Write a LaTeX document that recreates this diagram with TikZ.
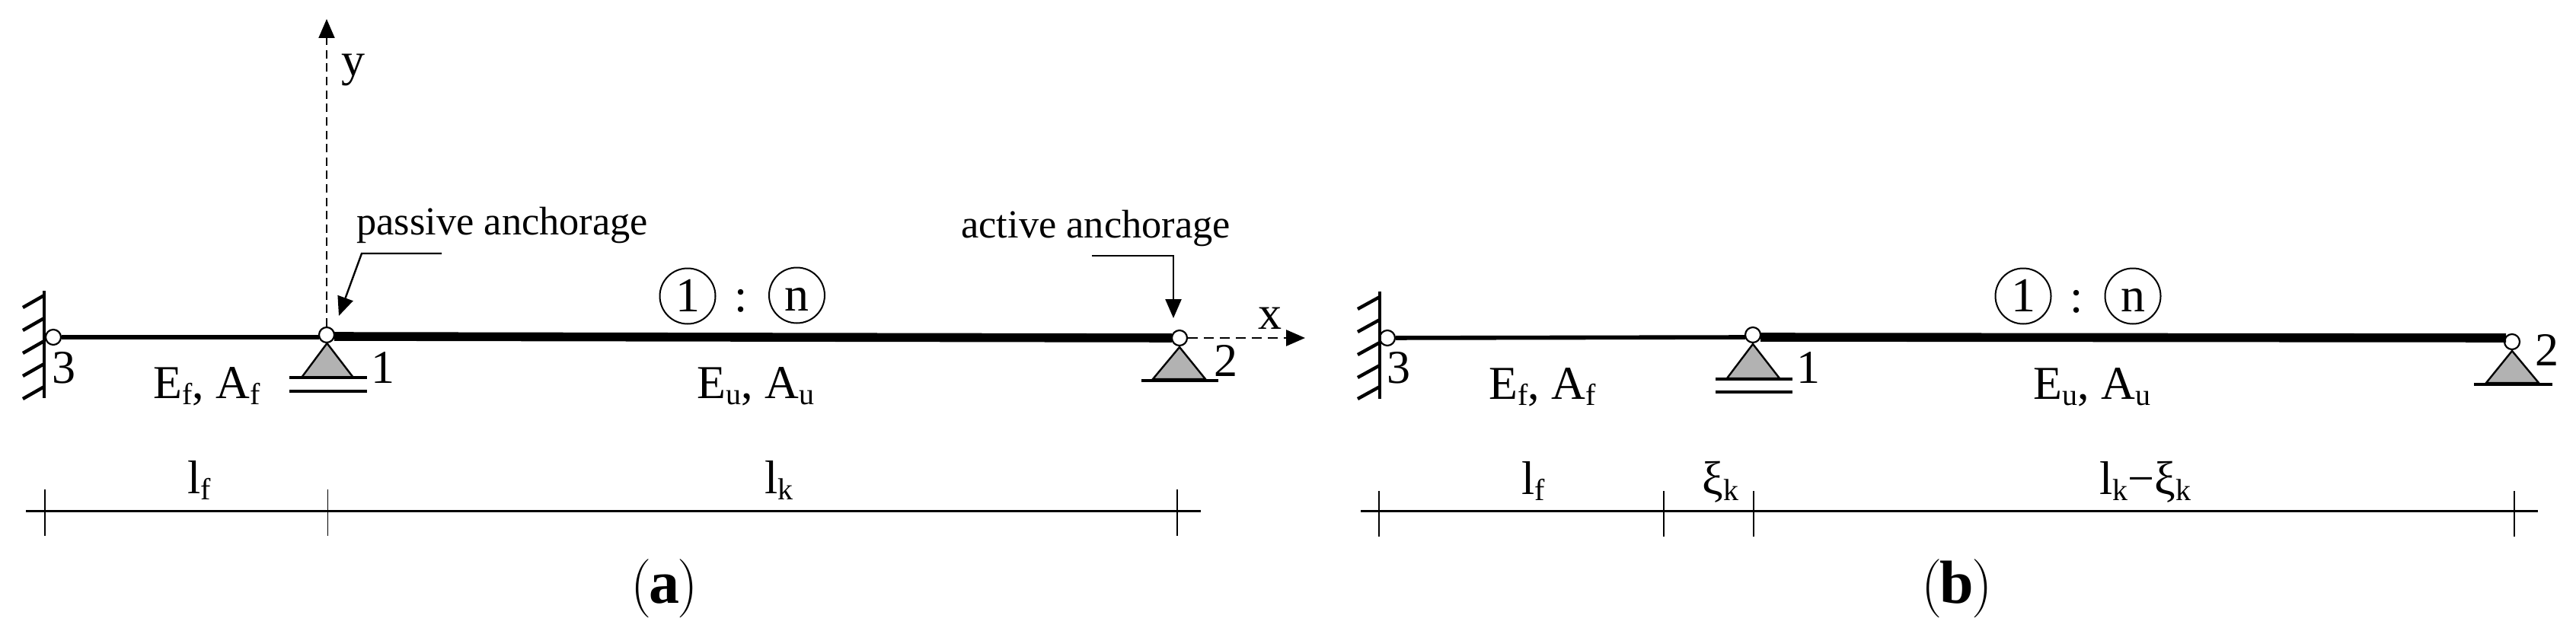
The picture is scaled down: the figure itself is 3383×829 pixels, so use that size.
\documentclass[tikz,border=0pt]{standalone}
\usepackage{fontspec}
\setmainfont{Liberation Serif}
\newfontfamily\capfont{Latin Modern Roman}
\usetikzlibrary{arrows.meta}
\newcommand{\sbs}[1]{\raisebox{-4pt}{\fontsize{20}{20}\selectfont #1}}
\newcommand{\captext}[1]{{\capfont\fontsize{38.5}{38.5}\selectfont (}\kern-1.5pt{\fontsize{40}{40}\selectfont\textbf{#1}}\kern-1.5pt{\capfont\fontsize{38.5}{38.5}\selectfont )}}
\tikzset{
  x=0.5pt,y=-0.5pt,
  hinge/.style={circle,draw,fill=white,line width=1.1pt,minimum size=10pt,inner sep=0pt},
  lab/.style={inner sep=0pt,anchor=base,font=\fontsize{31}{31}\selectfont},
  labw/.style={inner sep=0pt,anchor=base west,font=\fontsize{31}{31}\selectfont},
  note/.style={inner sep=0pt,anchor=base west,font=\fontsize{26.2}{26.2}\selectfont},
  ring/.style={circle,draw,line width=1pt,minimum size=36.5pt,inner sep=0pt,text height=20.96pt,text depth=0pt,font=\fontsize{32}{32}\selectfont},
  capt/.style={inner sep=0pt,anchor=base},
  thinbeam/.style={line width=2.8pt},
  thickbeam/.style={line width=5.8pt},
  wallline/.style={line width=2.2pt},
  supp/.style={draw,fill=black!30,line width=1.2pt,line join=miter},
  baseline/.style={line width=1.6pt},
  dimline/.style={line width=1.5pt},
  tick/.style={line width=0.75pt},
  axisy/.style={line width=1pt,dash pattern=on 5.5pt off 3.3pt,-{Triangle[length=12.5pt,width=10.5pt]}},
  axisx/.style={line width=1.4pt,dash pattern=on 6.5pt off 4pt,-{Triangle[length=12.5pt,width=10.5pt]}},
  leader/.style={line width=1.2pt,-{Triangle[length=12.5pt,width=10.5pt]}},
}
\begin{document}
\begin{tikzpicture}
\useasboundingbox (0,0) rectangle (3383,829);
% ---------- panel a ----------
\node[hinge] (a3) at (70,443) {};
\node[hinge] (a1) at (429,440) {};
\node[hinge] (a2) at (1549,444) {};
\coordinate (a1w) at (419,443);
\coordinate (a1e) at (439,442);
\coordinate (a2w) at (1539,444);
\coordinate (aytop) at (429,25);
\coordinate (axtip) at (1714,444);
\draw[wallline] (58,382) -- (58,523);
\foreach \yy in {388,418,448,478,508} \draw[wallline] (58,\yy) -- (30,\yy+16);
\draw[thinbeam] (a3) -- (a1w);
\draw[thickbeam] (a1e) -- (a2w);
\draw[supp] (429.5,451) -- (396,496) -- (464,496) -- cycle;
\draw[baseline] (380,496) -- (482,496);
\draw[baseline] (380,514) -- (482,514);
\draw[supp] (1549,456) -- (1514,498) -- (1583,498) -- cycle;
\draw[baseline] (1499,500) -- (1600,500);
\draw[axisy] (a1) -- (aytop);
\draw[axisx] (a2) -- (axtip);
\node[lab] (ay) at (464,100) {y};
\node[lab] (ax) at (1668,432) {x};
\node[note] (apassive) at (468,308) {passive anchorage};
\node[note] (aactive) at (1262,312) {active anchorage};
\coordinate (ap1) at (580,333);
\coordinate (ap2) at (475,333);
\coordinate (ap3) at (445,415);
\draw[leader] (ap1) -- (ap2) -- (ap3);
\coordinate (aq1) at (1434,336);
\coordinate (aq2) at (1541,336);
\coordinate (aq3) at (1541,418);
\draw[leader] (aq1) -- (aq2) -- (aq3);
\node[lab] (n3a) at (84,503) {3};
\node[lab] (n1a) at (503,503) {1};
\node[lab] (n2a) at (1610,494) {2};
\node[labw] (efa) at (201,523) {E\sbs{f}, A\sbs{f}};
\node[labw] (eua) at (915,523) {E\sbs{u}, A\sbs{u}};
\node[ring] (ca1) at (903,389) {1};
\node[ring] (can) at (1046.5,388) {n};
\node[lab] (cac) at (973,409) {:};
\coordinate (ad0) at (34,671);
\coordinate (ad1) at (1577,671);
\draw[dimline] (ad0) -- (ad1);
\foreach \xx in {59,430.5,1546} \draw[tick] (\xx,643) -- (\xx,704);
\node[labw] (lfa) at (246,648) {l\sbs{f}};
\node[labw] (lka) at (1004,648) {l\sbs{k}};
\node[capt] (capa) at (872.5,792) {\captext{a}};
% ---------- panel b ----------
\node[hinge] (b3) at (1822,444) {};
\node[hinge] (b1) at (2302,440) {};
\node[hinge] (b2) at (3299,449) {};
\coordinate (b1w) at (2292,443);
\coordinate (b1e) at (2312,443);
\coordinate (b2w) at (3291,444);
\draw[wallline] (1812,383) -- (1812,524);
\foreach \yy in {390,420,450,480,508} \draw[wallline] (1812,\yy) -- (1783,\yy+16);
\draw[thinbeam] (b3) -- (b1w);
\draw[thickbeam] (b1e) -- (b2w);
\draw[supp] (2302,452) -- (2268,497) -- (2337,497) -- cycle;
\draw[baseline] (2253,498) -- (2354,498);
\draw[baseline] (2253,515) -- (2354,515);
\draw[supp] (3299,461) -- (3265,503) -- (3334,503) -- cycle;
\draw[baseline] (3249,505) -- (3352,505);
\node[lab] (n3b) at (1837,503) {3};
\node[lab] (n1b) at (2375,503) {1};
\node[lab] (n2b) at (3345,480) {2};
\node[labw] (efb) at (1955,524) {E\sbs{f}, A\sbs{f}};
\node[labw] (eub) at (2670,524) {E\sbs{u}, A\sbs{u}};
\node[ring] (cb1) at (2657,389) {1};
\node[ring] (cbn) at (2801,389) {n};
\node[lab] (cbc) at (2727,410) {:};
\coordinate (bd0) at (1787,671);
\coordinate (bd1) at (3333,671);
\draw[dimline] (bd0) -- (bd1);
\foreach \xx in {1811,2185,2303,3302} \draw[tick] (\xx,645) -- (\xx,705);
\node[labw] (lfb) at (1998,649) {l\sbs{f}};
\node[labw] (xib) at (2235,649) {ξ\sbs{k}};
\node[labw] (lkb) at (2757,649) {l\sbs{k}−ξ\sbs{k}};
\node[capt] (capb) at (2570,792) {\captext{b}};
\end{tikzpicture}
\end{document}
